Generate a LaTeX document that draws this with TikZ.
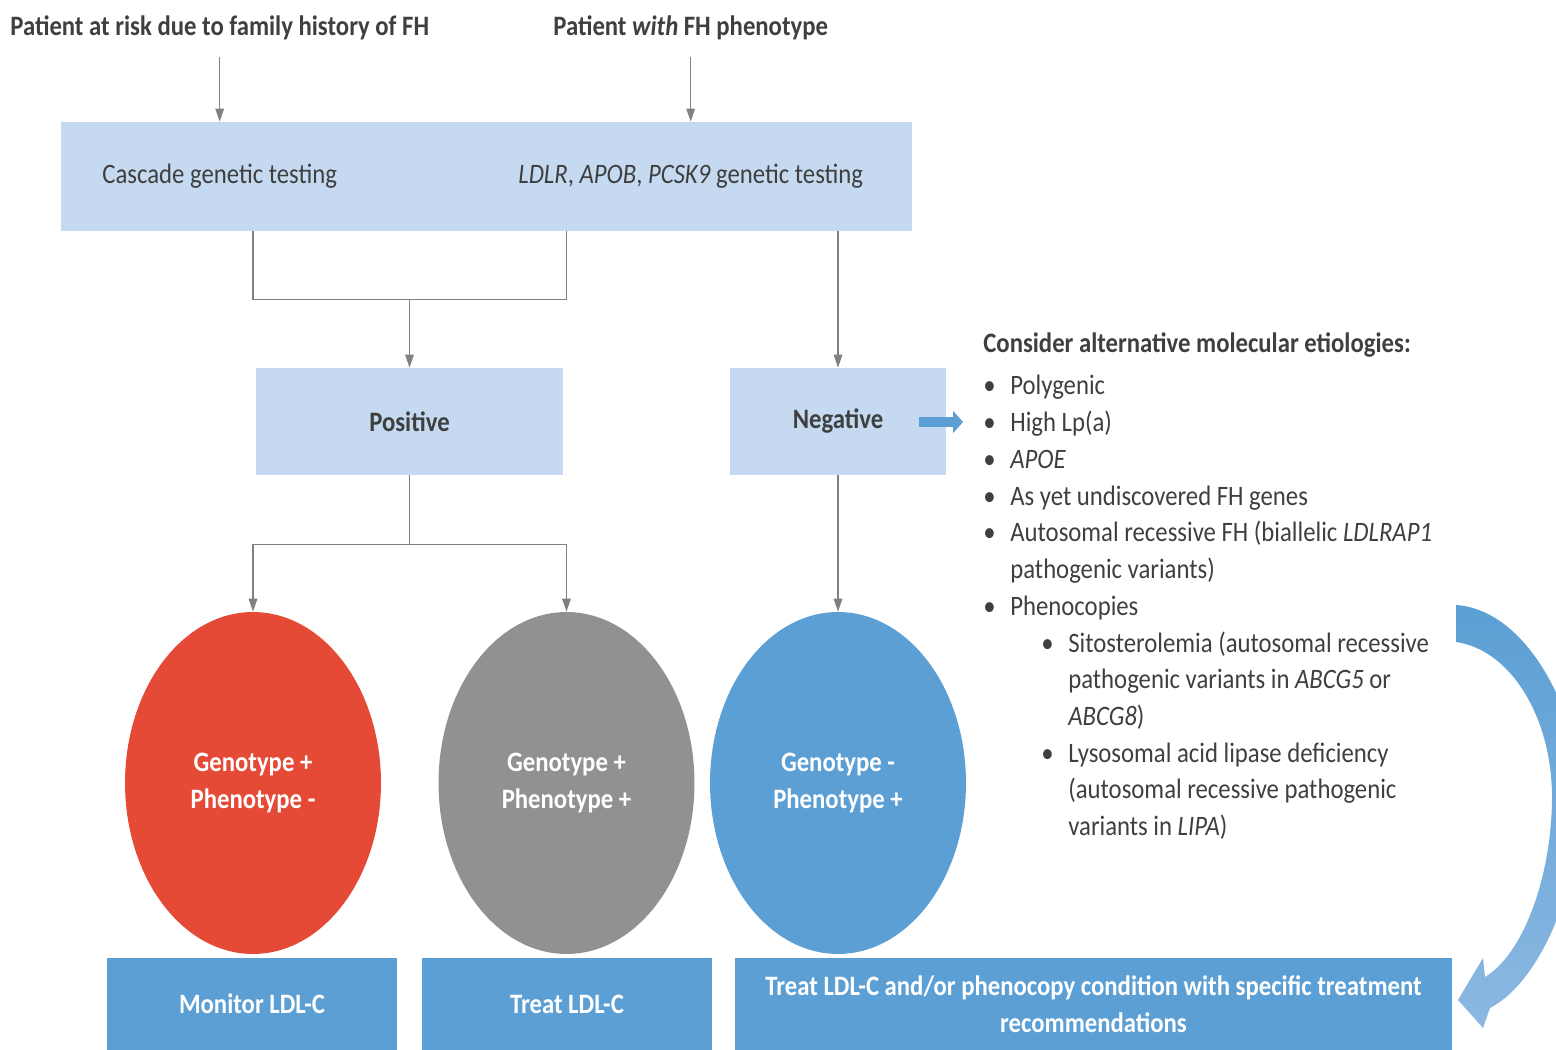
\documentclass[tikz,border=0pt]{standalone}
\usepackage{fontspec}
\setmainfont{Carlito}[FakeStretch=0.88]
\usetikzlibrary{positioning,shapes.geometric,arrows.meta}
\definecolor{lightbox}{HTML}{C5D9F0}
\definecolor{midblue}{HTML}{5B9FD4}
\definecolor{paleblue}{HTML}{8CB8E2}
\definecolor{redfill}{HTML}{E44A36}
\definecolor{grayfill}{HTML}{919191}
\definecolor{textgray}{HTML}{3F3F3F}
\definecolor{linegray}{HTML}{808080}
\newcommand{\txtsize}{\fontsize{16pt}{20.9pt}\selectfont}
\begin{document}
\begin{tikzpicture}[
  x=0.02cm, y=-0.02cm,
  every node/.style={font=\txtsize, text=textgray, inner sep=0pt},
  lbox/.style={fill=lightbox, minimum height=2.14cm},
  bbox/.style={fill=midblue, text=white, font=\txtsize\bfseries, align=center, minimum height=1.84cm},
  disc/.style={ellipse, minimum width=5.12cm, minimum height=6.84cm, text=white, font=\txtsize\bfseries, align=center},
  conn/.style={draw=linegray, line width=0.9pt},
  arr/.style={conn, -{Triangle[length=0.26cm,width=0.17cm]}}
]
\useasboundingbox (0,0) rectangle (1556,1050);

% entradas
\node[anchor=west, font=\txtsize\bfseries] (risk) at (10,28) {Patient at risk due to family history of FH};
\node[anchor=west, font=\txtsize\bfseries] (pheno) at (553,28) {Patient \textit{with} FH phenotype};

\node[lbox, minimum width=17.02cm, minimum height=2.18cm] (test) at (486.5,176.5) {};
\node (cascade) at (risk |- test) {Cascade genetic testing};
\node (genes) at (pheno |- test) {\textit{LDLR}, \textit{APOB}, \textit{PCSK9} genetic testing};

\draw[arr] (risk.south) ++(0,17) -- (risk |- test.north);
\draw[arr] (pheno.south) ++(0,17) -- (pheno |- test.north);

% resultado
\node[lbox, minimum width=6.14cm, font=\txtsize\bfseries] (pos) at (409.5,421.5) {Positive};
\node[lbox, minimum width=4.34cm, font=\txtsize\bfseries] (neg) at (838,421.5) {Negative};

\node[disc, fill=redfill] (gpneg) at (253,783) {Genotype +\\Phenotype -};
\node[disc, fill=grayfill] (gppos) at (566.5,783) {Genotype +\\Phenotype +};
\node[disc, fill=midblue] (gnpos) at (838,783) {Genotype -\\Phenotype +};

\draw[conn] (test.south -| gpneg) -- ++(0,68) coordinate (join) -| (test.south -| gppos);
\draw[arr] (join -| pos) -- (pos.north);
\draw[arr] (test.south -| neg) -- (neg.north);

\draw[conn] (pos.south) -- ++(0,69) coordinate (split);
\draw[conn] (split -| gpneg) -- (split -| gppos);
\draw[arr] (split -| gpneg) -- (gpneg.north);
\draw[arr] (split -| gppos) -- (gppos.north);
\draw[arr] (neg.south) -- (gnpos.north);

% condutas
\node[bbox, minimum width=5.8cm] (monitor) at (252,1004) {Monitor LDL-C};
\node[bbox, minimum width=5.8cm] (treat) at (567,1004) {Treat LDL-C};
\node[bbox, minimum width=14.34cm] (treatall) at (1093.5,1004) {Treat LDL-C and/or phenocopy condition with specific treatment\\recommendations};

% etiologias alternativas
\node[anchor=west, font=\txtsize\bfseries] (consider) at (983,345) {Consider alternative molecular etiologies:};
\node[anchor=base west] (etiol) at (983,395) {%
  \begin{tabular}[t]{@{}p{0.54cm}@{}p{0.62cm}@{}p{0.54cm}@{}l@{}}
  • & \multicolumn{3}{@{}l@{}}{Polygenic}\\
  • & \multicolumn{3}{@{}l@{}}{High Lp(a)}\\
  • & \multicolumn{3}{@{}l@{}}{\textit{APOE}}\\
  • & \multicolumn{3}{@{}l@{}}{As yet undiscovered FH genes}\\
  • & \multicolumn{3}{@{}l@{}}{Autosomal recessive FH (biallelic \textit{LDLRAP1}}\\
    & \multicolumn{3}{@{}l@{}}{pathogenic variants)}\\
  • & \multicolumn{3}{@{}l@{}}{Phenocopies}\\
    & & • & Sitosterolemia (autosomal recessive\\
    & & & pathogenic variants in \textit{ABCG5} or\\
    & & & \textit{ABCG8})\\
    & & • & Lysosomal acid lipase deficiency\\
    & & & (autosomal recessive pathogenic\\
    & & & variants in \textit{LIPA})
  \end{tabular}};

\coordinate (negout) at (919,422);
\draw[midblue, line width=0.2cm, -{Triangle[length=0.2cm,width=0.44cm]}] (negout) -- (963,422);

% seta curva
\shade[top color=midblue, bottom color=paleblue]
  (1456,605) .. controls (1530,610) and (1582,720) .. (1580,800)
  .. controls (1578,900) and (1535,985) .. (1490,1008)
  -- (1483,1028) -- (1458,1000) -- (1483,958) -- (1485,977)
  .. controls (1522,955) and (1551,880) .. (1552,800)
  .. controls (1553,720) and (1512,650) .. (1456,642) -- cycle;
\end{tikzpicture}
\end{document}
